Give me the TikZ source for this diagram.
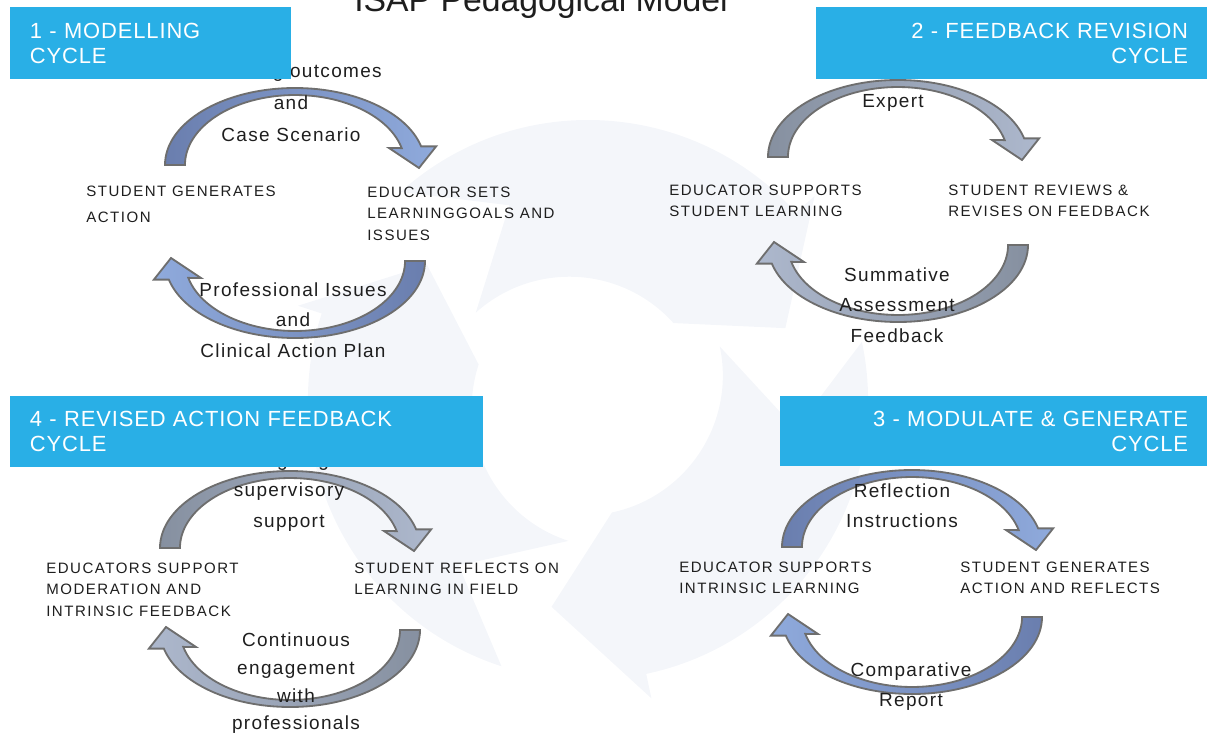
\documentclass[tikz,border=0pt]{standalone}
\usepackage{fontspec}
\setmainfont{Liberation Sans}
\newfontfamily\capsfont[LetterSpace=10]{Liberation Sans}
\newfontfamily\labelfont[LetterSpace=7]{Liberation Sans}
\newfontfamily\boxfont[LetterSpace=4]{Liberation Sans}
\usetikzlibrary{calc}

\definecolor{boxblue}{RGB}{41,175,230}
\definecolor{arrowline}{RGB}{110,110,110}
\definecolor{bluedark}{RGB}{106,126,174}
\definecolor{bluelight}{RGB}{143,170,220}
\definecolor{greydark}{RGB}{134,144,160}
\definecolor{greylight}{RGB}{173,184,205}
\definecolor{ringgrey}{RGB}{244,246,250}
\definecolor{textdark}{RGB}{30,30,30}

\def\px{0.025cm}

\tikzstyle{cyclebox} = [rectangle, fill=boxblue, text=white, inner sep=0pt,
minimum height=1.8cm,
font=\boxfont\fontsize{15.6}{17.8}\selectfont]
\tikzstyle{stepnode} = [inner sep=0pt, align=left, anchor=north west,
text=textdark,
font=\capsfont\fontsize{10.7}{15.3}\selectfont]
\tikzstyle{arrowlabel} = [inner sep=0pt, align=center, anchor=north,
text=textdark,
font=\labelfont\fontsize{13.5}{21.8}\selectfont]
\tikzstyle{bluearrow} = [draw=arrowline, line width=1.3pt,
left color=bluedark, right color=bluelight]
\tikzstyle{bluearrowback} = [draw=arrowline, line width=1.3pt,
left color=bluelight, right color=bluedark]
\tikzstyle{greyarrow} = [draw=arrowline, line width=1.3pt,
left color=greydark, right color=greylight]
\tikzstyle{greyarrowback} = [draw=arrowline, line width=1.3pt,
left color=greylight, right color=greydark]

\tikzset{pics/cyclearrow/.style={code={
\path[#1] (-130,0) arc[start angle=180, end angle=346, x radius=130, y radius=77]
-- ++(15,0) -- (124,3) -- (94,-17) -- (106.7,-16.9)
arc[start angle=346, end angle=180, x radius=110, y radius=70] -- cycle;
}}}

\begin{document}
\begin{tikzpicture}[x=\px, y=-\px]
\clip (0,0) rectangle (1207,735);

% faint ring behind the four cycles
\begin{scope}[shift={(588,400)}]
\foreach \a in {-132,-12,108} {
\fill[ringgrey] (\a:280) arc[start angle=\a, end angle=\a+90, radius=280]
-- (\a+90:305) -- (\a+112:210) -- (\a+90:115)
arc[start angle=\a+90, end angle=\a, radius=140] -- (\a+20:210) -- cycle;
}
\end{scope}

\coordinate (cyc1) at (295,213);
\coordinate (cyc2) at (898,201);
\coordinate (cyc3) at (912,582);
\coordinate (cyc4) at (290,589);

\pic at ($(cyc1)+(0,-48)$) {cyclearrow=bluearrow};
\pic[rotate=180] at ($(cyc1)+(0,48)$) {cyclearrow=bluearrowback};
\pic at ($(cyc2)+(0,-44)$) {cyclearrow=greyarrow};
\pic[rotate=180] at ($(cyc2)+(0,44)$) {cyclearrow=greyarrowback};
\pic at ($(cyc3)+(0,-35)$) {cyclearrow=bluearrow};
\pic[rotate=180] at ($(cyc3)+(0,35)$) {cyclearrow=bluearrowback};
\pic at ($(cyc4)+(0,-41)$) {cyclearrow=greyarrow};
\pic[rotate=180] at ($(cyc4)+(0,41)$) {cyclearrow=greyarrowback};

\node (lab1a) [arrowlabel, font=\labelfont\fontsize{13.5}{22.8}\selectfont] at (291,63) {Learning outcomes\\and\\Case Scenario};
\node (lab1b) [arrowlabel] at (293,282) {Professional Issues\\and\\Clinical Action Plan};
\node (lab2a) [arrowlabel] at (893,94) {Expert};
\node (lab2b) [arrowlabel] at (897,267) {Summative\\Assessment\\Feedback};
\node (lab4a) [arrowlabel] at (289,452) {Ongoing\\supervisory\\support};
\node (lab4b) [arrowlabel, font=\labelfont\fontsize{13.5}{19.9}\selectfont] at (296,632) {Continuous\\engagement\\with\\professionals};
\node (lab3a) [arrowlabel] at (902,483) {Reflection\\Instructions};
\node (lab3b) [arrowlabel] at (911,662) {Comparative\\Report};

\node (gen1) [stepnode] at (86,185.5) {STUDENT GENERATES\\[3pt]ACTION};
\node (set1) [stepnode] at (367,186.5) {EDUCATOR SETS\\LEARNINGGOALS AND\\ISSUES};
\node (sup2) [stepnode] at (669,184.5) {EDUCATOR SUPPORTS\\STUDENT LEARNING};
\node (rev2) [stepnode] at (948,184.5) {STUDENT REVIEWS \&\\REVISES ON FEEDBACK};
\node (sup4) [stepnode] at (46,562.5) {EDUCATORS SUPPORT\\MODERATION AND\\INTRINSIC FEEDBACK};
\node (ref4) [stepnode] at (354,562.5) {STUDENT REFLECTS ON\\LEARNING IN FIELD};
\node (sup3) [stepnode] at (679,561.5) {EDUCATOR SUPPORTS\\INTRINSIC LEARNING};
\node (gen3) [stepnode] at (960,561.5) {STUDENT GENERATES\\ACTION AND REFLECTS};

\node (box1) [cyclebox, minimum width=7.025cm, text width=6.025cm, align=left] at (150.5,43) {1 - MODELLING\\CYCLE};
\node (box2) [cyclebox, minimum width=9.775cm, text width=8.825cm, align=right] at (1011.5,43) {2 - FEEDBACK REVISION\\CYCLE};
\node (box4) [cyclebox, minimum width=11.825cm, minimum height=1.775cm, text width=10.825cm, align=left] at (246.5,431.5) {4 - REVISED ACTION FEEDBACK\\CYCLE};
\node (box3) [cyclebox, minimum width=10.675cm, minimum height=1.75cm, text width=9.725cm, align=right] at (993.5,431) {3 - MODULATE \& GENERATE\\CYCLE};

\node (title) [anchor=base, text=textdark, font=\fontsize{24}{28}\selectfont] at (541,11.5) {ISAP Pedagogical Model};

\end{tikzpicture}
\end{document}
